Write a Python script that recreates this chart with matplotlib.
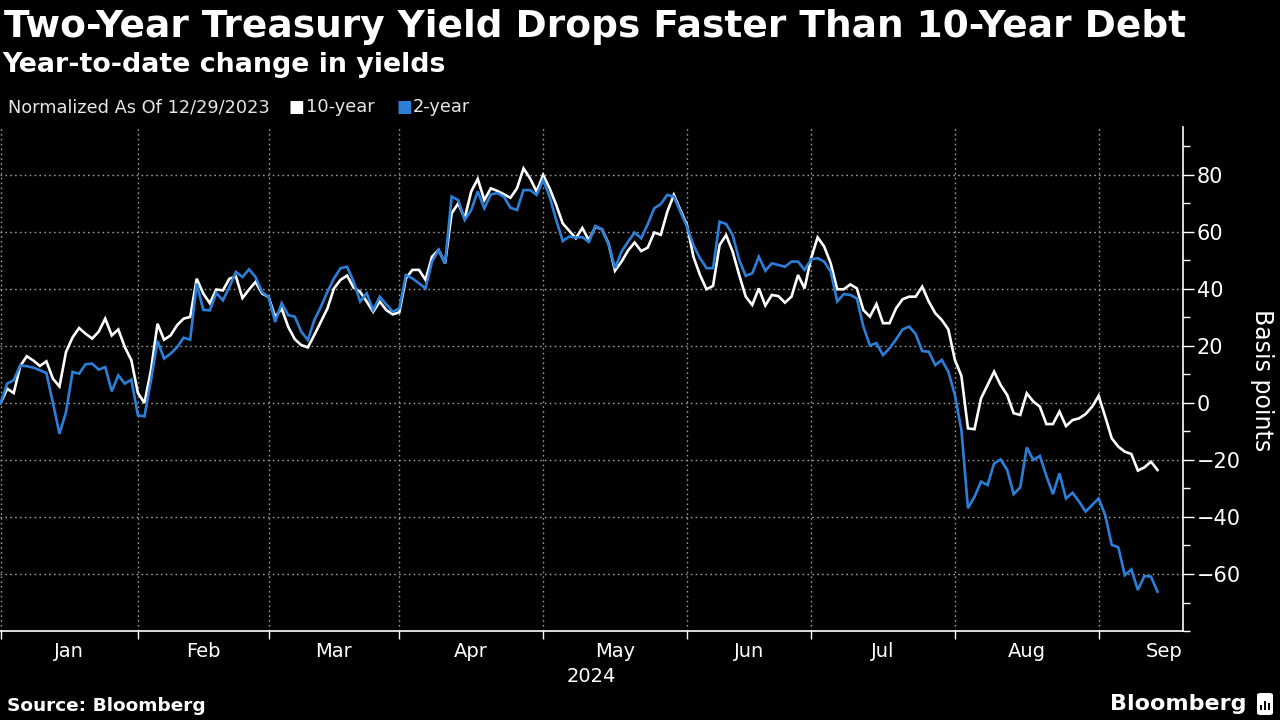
import matplotlib
matplotlib.use('Agg')
import matplotlib.pyplot as plt
import numpy as np
import pandas as pd
from matplotlib.patches import FancyBboxPatch

# Bond market holidays (the chart uses a trading-day axis, no gaps)
HOLIDAYS = ['2024-01-01', '2024-01-15', '2024-02-19', '2024-03-29',
            '2024-05-27', '2024-06-19', '2024-07-04', '2024-09-02']

# Change in yield, basis points vs 12/29/2023, one value per trading day
ten_year = [
    0, 0, 5, 3.5, 13, 16.4, 14.9, 13, 14.6, 8.5,
    5.8, 17.9, 23, 26.3, 24.3, 22.6, 25, 29.6, 23.7, 25.8,
    19.6, 15, 3.5, 0, 11.5, 27.8, 22.2, 23.7, 27.3, 29.6,
    30.2, 43.6, 38.4, 35, 39.8, 39.5, 43.6, 44.4, 36.8, 39.8,
    42.5, 38.4, 37.2, 30.2, 33.1, 26.7, 22.4, 20.3, 19.5, 23.9,
    28.5, 33.2, 40.2, 43.2, 44.7, 40.5, 39, 35.6, 32, 35.6,
    32.6, 31.1, 31.8, 43.7, 46.7, 46.7, 43.2, 51.3, 53.7, 49,
    66.5, 70, 64.8, 74.2, 78.6, 71.2, 75.3, 74.4, 73.2, 72,
    75.3, 82.3, 78.8, 74.2, 80, 75.3, 69.5, 63, 60.4, 57.8,
    61.4, 57.1, 61.9, 60.9, 56, 46.4, 49.6, 53.5, 56.3, 53.3,
    54.5, 59.8, 59, 67.1, 73, 67.7, 62.5, 51.3, 44.9, 39.9,
    41.1, 55.4, 58.9, 53.1, 44.9, 37.3, 34.4, 40.2, 34.2, 37.9,
    37.5, 35.2, 37.3, 44.9, 40.2, 50.8, 58.1, 54.9, 49, 39.9,
    39.9, 41.6, 40.2, 32.6, 30.3, 34.7, 28, 28, 33.2, 36.4,
    37.3, 37.3, 40.8, 35.6, 31.5, 29.1, 25.8, 15.1, 9.5, -8.9,
    -9.2, 1.6, 6.3, 11, 6.3, 2.8, -3.6, -4.2, 3.4, 0.5,
    -1.3, -7.4, -7.4, -3, -8.1, -6, -5.4, -3.9, -1.3, 2.5,
    -4.8, -12.4, -15.3, -17.1, -17.9, -23.7, -22.6, -20.6, -23.5,
]
two_year = [
    0, 0, 6.8, 8, 13.2, 12.9, 12.4, 11.5, 10.5, 0,
    -10.8, -3.2, 10.9, 10.3, 13.6, 13.8, 11.7, 12.6, 4.1, 9.7,
    6.8, 8.2, -4.3, -4.7, 8, 21.8, 15.6, 17.3, 19.6, 22.9,
    22.2, 41.9, 32.7, 32.5, 38.6, 36, 40.7, 46, 44.2, 46.9,
    44.2, 38.9, 37.2, 28.4, 35, 30.8, 30.3, 25, 22.1, 29.1,
    33.8, 39, 43.7, 47.3, 47.8, 42.6, 35.6, 38.5, 32.6, 37.3,
    34.6, 32, 33.2, 44.9, 43.7, 42, 40.2, 49.6, 53.7, 49,
    72.4, 71.2, 64.2, 67.7, 74.2, 68.3, 73.2, 73.6, 72.4, 68.5,
    67.7, 74.7, 74.7, 73, 78.2, 72.4, 64.2, 56.8, 58.4, 58,
    58.2, 56.5, 62.1, 60.9, 55.8, 47.3, 53.1, 56.6, 59.8, 57.8,
    62.7, 68.3, 69.8, 73, 72.4, 67.1, 61.9, 55.4, 50.8, 47.3,
    47.3, 63.6, 62.8, 58.9, 50.2, 44.6, 45.5, 51.3, 46.4, 49,
    48.4, 47.8, 49.6, 49.6, 46.7, 50.4, 50.8, 49.6, 46.1, 35.6,
    38.2, 37.9, 36.7, 26.8, 20.2, 21, 16.8, 19.2, 22.3, 25.8,
    26.8, 24.2, 18.2, 18, 13.3, 15.1, 11, 2.8, -9.5, -36.9,
    -32.9, -27.6, -28.8, -21.2, -19.8, -23.5, -32, -29.6, -15.6, -20,
    -18.6, -25.6, -32, -24.7, -33.5, -31.5, -34.6, -38.1, -35.8, -33.5,
    -39.3, -49.8, -50.6, -60.4, -58.4, -65.6, -60.7, -60.9, -66.2,
]

months = ['Jan', 'Feb', 'Mar', 'Apr', 'May', 'Jun', 'Jul', 'Aug', 'Sep']
y_major = [-60, -40, -20, 0, 20, 40, 60, 80]
y_minor = [-80, -70, -50, -30, -10, 10, 30, 50, 70, 90]

BG = '#000000'
WHITE = '#ffffff'
BLUE = '#2c7fd8'
GRID = '#9a9a9a'
LEG = '#e6e6e6'

# trading-day calendar
days = pd.bdate_range('2023-12-29', '2024-10-31')
days = days[~days.isin(pd.to_datetime(HOLIDAYS))]
x = np.arange(len(ten_year))

# first trading day of each month Jan..Oct
starts = []
for m in range(1, 11):
    starts.append(int(np.argmax((days.year == 2024) & (days.month == m))))
mids = [(starts[i] + starts[i + 1]) / 2 for i in range(len(months))]

fig = plt.figure(figsize=(12.8, 7.2), dpi=100, facecolor=BG)
ax = fig.add_axes([0.0, 0.1236, 0.9242, 0.7007])
ax.set_facecolor(BG)

ax.plot(x, ten_year, color=WHITE, lw=1.9, solid_joinstyle='miter', zorder=3)
ax.plot(x, two_year, color=BLUE, lw=1.9, solid_joinstyle='miter', zorder=4)

ax.set_xlim(0.9, 181.9)
ax.set_ylim(-80, 97)

for side in ['left', 'top']:
    ax.spines[side].set_visible(False)
for side in ['right', 'bottom']:
    ax.spines[side].set_color(WHITE)
    ax.spines[side].set_linewidth(1.2)

# x axis: ticks at month starts, labels centred on each month
ax.set_xticks(starts[:len(months)])
ax.set_xticklabels([])
ax.set_xticks(mids, months, minor=True)
ax.tick_params(axis='x', which='major', direction='out', length=6, width=1, color=WHITE)
ax.tick_params(axis='x', which='minor', length=0, pad=8, labelsize=14, labelcolor=WHITE)

# y axis on the right
ax.yaxis.tick_right()
ax.set_yticks(y_major)
ax.set_yticks(y_minor, minor=True)
ax.tick_params(axis='y', which='major', direction='out', length=8, width=1,
               color=WHITE, labelcolor=WHITE, labelsize=15, pad=2)
ax.tick_params(axis='y', which='minor', direction='out', length=5, width=1, color=WHITE)

ax.grid(which='major', color=GRID, linestyle=(0, (1.2, 2.3)), linewidth=1)
ax.set_axisbelow(True)

fig.text(0.5 * 0.9242, 1 - 677 / 720, '2024', color=WHITE, fontsize=14,
         ha='center', va='center')
fig.text(1262 / 1280, 1 - 380 / 720, 'Basis points', color=WHITE, fontsize=17,
         rotation=270, ha='center', va='center')

# titles
fig.text(0.003, 1 - 27 / 720, 'Two-Year Treasury Yield Drops Faster Than 10-Year Debt',
         color=WHITE, fontsize=27, fontweight='bold', ha='left', va='center')
fig.text(0.002, 1 - 65 / 720, 'Year-to-date change in yields',
         color=WHITE, fontsize=19.3, fontweight='bold', ha='left', va='center')

# legend row
leg_y = 1 - 107 / 720
fig.text(8 / 1280, leg_y, 'Normalized As Of 12/29/2023', color=LEG,
         fontsize=12.8, ha='left', va='center')
fig.text(289 / 1280, leg_y, '\u25a0', color=WHITE, fontsize=12, ha='left', va='center')
fig.text(306 / 1280, leg_y, '10-year', color=LEG, fontsize=12.8, ha='left', va='center')
fig.text(396 / 1280, leg_y, '\u25a0', color=BLUE, fontsize=12, ha='left', va='center')
fig.text(413 / 1280, leg_y, '2-year', color=LEG, fontsize=12.8, ha='left', va='center')

# footer
fig.text(7 / 1280, 1 - 706 / 720, 'Source: Bloomberg', color=WHITE, fontsize=13.3,
         fontweight='bold', ha='left', va='center')
fig.text(1247 / 1280, 1 - 704 / 720, 'Bloomberg', color=WHITE, fontsize=16,
         fontweight='bold', ha='right', va='center')
logo = FancyBboxPatch((1257 / 1280, 1 - 715 / 720), 16 / 1280, 22 / 720,
                      boxstyle='round,pad=0,rounding_size=0.003',
                      transform=fig.transFigure, facecolor=WHITE, edgecolor='none')
fig.patches.append(logo)
for i, h in enumerate([5, 9, 7]):
    fig.patches.append(plt.Rectangle(((1260 + i * 4) / 1280, 1 - 710 / 720), 2 / 1280, h / 720,
                                     transform=fig.transFigure, facecolor=BG,
                                     edgecolor='none'))

fig.savefig('out.png', dpi=100, facecolor=BG)
